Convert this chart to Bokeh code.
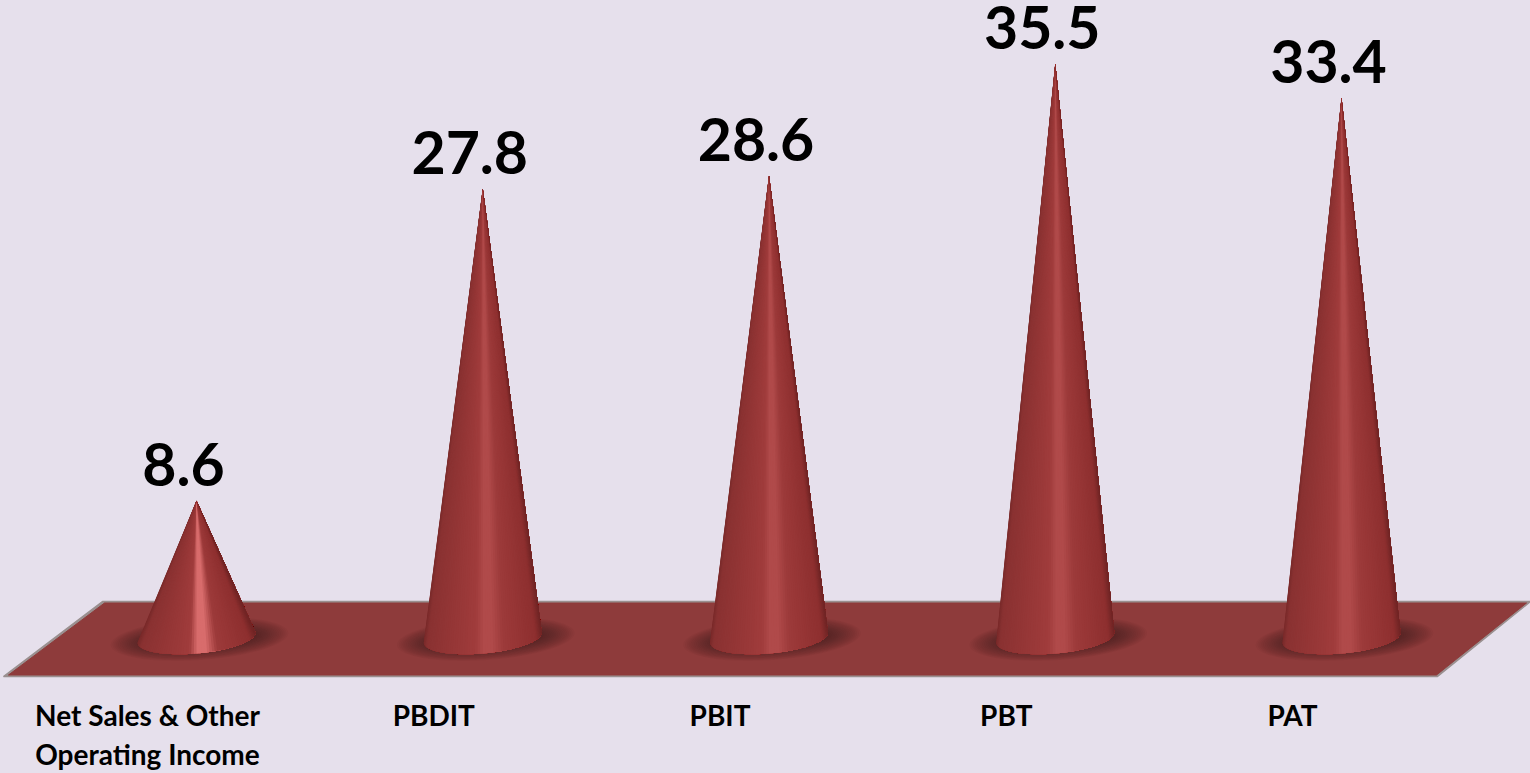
import numpy as np
from bokeh.plotting import figure
from bokeh.embed import file_html
from bokeh.resources import INLINE
from bokeh.core.properties import value as V

categories = ["Net Sales & Other\nOperating Income", "PBDIT", "PBIT", "PBT", "PAT"]
values = [8.6, 27.8, 28.6, 35.5, 33.4]
peak_colors = ["#d86c6c", "#b04a4a", "#b04a4a", "#b04a4a", "#b04a4a"]

W, H = 1530, 773
FONT = "Lato"
BG = "#e6e0ec"
X0, DX = 196.0, 286.25     # pixel of first category, pixels per category
Y0, DY = 640.0, 16.25      # pixel of value 0, pixels per unit

px = lambda x: (np.asarray(x, float) - X0) / DX
py = lambda y: (Y0 - np.asarray(y, float)) / DY

p = figure(width=W, height=H, output_backend="svg", toolbar_location=None,
           x_range=(float(px(0)), float(px(W))), y_range=(float(py(H)), float(py(0))),
           min_border=0, background_fill_color=BG, border_fill_color=BG, outline_line_color=None)
p.axis.visible = False
p.grid.visible = False

# floor
p.patch(px([102, 1530, 1437, 3]), py([601, 601, 676, 676]), fill_color="#9a9090", line_color="#9a9090", line_width=1.5)
p.patch(px([104, 1526, 1436, 8]), py([602.5, 602.5, 674.5, 674.5]), fill_color="#8e3b3b", line_color="#8e3b3b")

def mix(a, b, t):
    return tuple(a[i] + (b[i] - a[i]) * t for i in range(3))

def rgb(h):
    return tuple(int(h[i:i + 2], 16) for i in (1, 3, 5))

def shade(u, peak):
    stops = [(-1.0, rgb("#7a2a2a")), (-0.94, rgb("#8a3232")), (-0.45, rgb("#973737")),
             (-0.12, rgb("#a03c3c")), (0.02, rgb(peak)), (0.16, rgb(peak)), (0.36, rgb("#9c3a3a")),
             (0.9, rgb("#8e2f2f")), (1.0, rgb("#702525"))]
    for (a, ca), (b, cb) in zip(stops, stops[1:]):
        if u <= b:
            c = mix(ca, cb, (u - a) / (b - a))
            return "#%02x%02x%02x" % tuple(int(round(v)) for v in c)
    return "#702525"

N = 70
for i, v in enumerate(values):
    # shadow on the floor
    for k in range(18):
        f = 1 - k / 18
        p.ellipse([i + 3 / DX], [float(py(638.5))], width=[112 + 66 * f], height=[18 + 24 * f],
                  width_units="screen", height_units="screen", angle=0.07,
                  fill_color="#3a0f0f", fill_alpha=0.04, line_color=None)
    # cone as overlapping fans from apex to the base rim, painted left to right
    th = np.linspace(-np.pi / 2, np.pi / 2, N + 1)
    xs, ys, cs = [], [], []
    for k in range(N):
        rim = th[k:]
        bx = i + 59.0 / DX * np.sin(rim)
        by = py(637 - 5 * np.sin(rim) + 16 * np.cos(rim))
        xs.append([i] + list(bx))
        ys.append([v] + list(by))
        cs.append(shade(float(np.sin((th[k] + th[k + 1]) / 2)), peak_colors[i]))
    p.patches(xs, ys, fill_color=cs, line_color=None)

# value labels
p.text([i - 13 / DX for i in range(len(values))], values, text=[f"{v}" for v in values],
       text_font=V(FONT), text_font_style="bold", text_font_size="59px", text_color="#000000",
       text_align="center", text_baseline="alphabetic", y_offset=-36)

# category labels
lx, ly, lt = [], [], []
for i, c in enumerate(categories):
    for j, line in enumerate(c.split("\n")):
        lx.append(i - 49 / DX)
        ly.append(float(py(714 + 39 * j)))
        lt.append(line)
p.text(lx, ly, text=lt, text_font=V(FONT), text_font_style="bold", text_font_size="28px",
       text_color="#000000", text_align="center", text_baseline="middle")

html = file_html(p, INLINE)
html = html.replace("<head>", f"<head><style>html,body{{margin:0;padding:0;background:{BG};overflow:hidden}}</style>", 1)
open("out.html", "w").write(html)
